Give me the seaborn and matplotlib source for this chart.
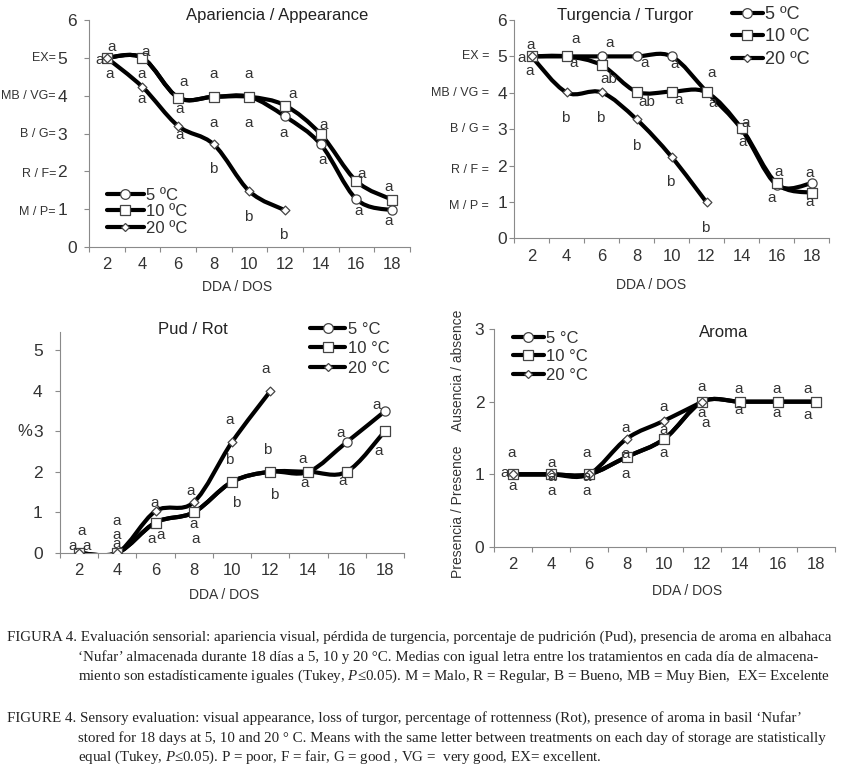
import numpy as np
import matplotlib
matplotlib.use("Agg")
import matplotlib.pyplot as plt
import matplotlib.transforms as mtransforms
from matplotlib.path import Path
from matplotlib.patches import PathPatch
from matplotlib.lines import Line2D
import seaborn as sns

# ---- data ----
days = [2, 4, 6, 8, 10, 12, 14, 16, 18]
temps = ["5", "10", "20"]

# Apariencia / Appearance (scale 1-5)
app_5 = [5.0, 5.0, 3.95, 3.97, 3.97, 3.45, 2.71, 1.26, 0.97]
app_10 = [5.0, 5.0, 3.95, 3.97, 3.97, 3.74, 2.98, 1.74, 1.25]
app_20 = [5.0, 4.23, 3.2, 2.71, 1.47, 0.97]
app_let = ["a", "a", "a", "a", "a", "a", "a", "a", "a", "a", "a", "b",
           "a", "a", "b", "a", "a", "b", "a", "a", "a", "a", "a", "a"]
app_let_x = [2.27, 1.58, 2.18, 4.18, 3.95, 3.95, 6.29, 6.1, 6.1, 7.97, 7.97, 7.97,
             9.94, 9.94, 9.94, 12.42, 11.9, 11.9, 14.14, 14.1, 16.29, 16.14, 17.78, 17.78]
app_let_y = [5.29, 4.95, 4.56, 5.15, 4.56, 3.92, 4.36, 3.66, 2.95, 4.56, 3.28, 2.07,
             4.56, 3.28, 0.79, 4.04, 3.01, 0.31, 3.22, 2.31, 1.92, 0.95, 1.59, 0.70]

# Turgencia / Turgor
turg_5 = [5.0, 5.0, 5.0, 5.0, 5.0, 4.03, 3.0, 1.47, 1.51]
turg_10 = [5.0, 5.0, 4.76, 4.03, 4.03, 4.01, 3.02, 1.51, 1.25]
turg_20 = [5.0, 4.01, 4.01, 3.27, 2.24, 0.99]
turg_let = ["a", "a", "a", "a", "a", "a", "ab", "b", "b", "a", "ab", "b",
            "a", "a", "b", "a", "a", "b", "a", "a", "a", "a", "a", "a"]
turg_let_x = [1.95, 1.44, 1.91, 4.52, 4.43, 6.45, 6.39, 3.91, 5.91, 8.49, 8.58, 7.97,
              10.2, 10.39, 9.91, 12.3, 12.35, 11.91, 14.26, 14.07, 16.1, 15.72, 17.87, 17.87]
turg_let_y = [5.31, 4.95, 4.61, 5.49, 4.81, 5.38, 4.38, 3.30, 3.32, 4.81, 3.75, 2.55,
              4.79, 3.80, 1.56, 4.55, 3.71, 0.29, 3.16, 2.66, 1.83, 1.10, 1.79, 1.01]

# Pud / Rot (%)
pud_5 = [0.0, 0.0, 0.75, 1.0, 1.75, 2.0, 2.0, 2.73, 3.49]
pud_10 = [0.0, 0.0, 0.75, 1.0, 1.75, 2.0, 2.0, 2.0, 3.0]
pud_20 = [0.0, 0.0, 1.03, 1.25, 2.73, 3.98]
pud_let = ["a", "a", "a", "a", "a", "a", "a", "a", "a", "a", "a", "a",
           "a", "b", "b", "a", "b", "b", "a", "a", "a", "a", "a", "a"]
pud_let_x = [1.67, 2.4, 2.14, 3.96, 3.96, 3.96, 5.96, 5.79, 6.26, 7.82, 7.99, 8.09,
             9.86, 9.86, 10.24, 11.78, 11.86, 12.21, 13.72, 13.82, 15.68, 15.77, 17.59, 17.68]
pud_let_y = [0.18, 0.18, 0.53, 0.78, 0.45, 0.21, 1.23, 0.34, 0.45, 1.52, 0.72, 0.34,
             3.28, 2.28, 1.22, 4.52, 2.53, 1.44, 2.32, 1.72, 2.96, 1.77, 3.65, 2.5]

# Aroma (1 = presence, 2 = absence)
aro_5 = [1.0, 1.0, 1.0, 1.24, 1.49, 2.0, 2.0, 2.0, 2.0]
aro_10 = [1.0, 1.0, 1.0, 1.24, 1.49, 2.0, 2.0, 2.0, 2.0]
aro_20 = [1.0, 1.0, 1.0, 1.49, 1.74, 2.0]
aro_let = ["a"] * 24
aro_let_x = [1.93, 1.58, 1.96, 4.04, 4.04, 4.04, 5.91, 5.91, 5.91, 7.93, 7.93, 7.93,
             9.95, 9.95, 9.95, 11.96, 11.96, 12.17, 13.93, 13.93, 15.91, 15.91, 17.55, 17.55]
aro_let_y = [1.29, 1.02, 0.84, 1.15, 0.96, 0.77, 1.29, 0.97, 0.77, 1.64, 1.28, 1.0,
             1.93, 1.61, 1.29, 2.2, 1.84, 1.70, 2.17, 1.88, 2.17, 1.85, 2.17, 1.82]

scale_prefix = ["M / P", "R / F", "B / G", "MB / VG", "EX"]

caption_es = [
    "FIGURA 4. Evaluación sensorial: apariencia visual, pérdida de turgencia, porcentaje de pudrición (Pud), presencia de aroma en albahaca",
    "‘Nufar’ almacenada durante 18 días a 5, 10 y 20 °C. Medias con igual letra entre los tratamientos en cada día de almacena-",
    "miento son estadísticamente iguales (Tukey, $\\mathit{P≤0.05}$). M = Malo, R = Regular, B = Bueno, MB = Muy Bien,  EX= Excelente",
]
caption_en = [
    "FIGURE 4. Sensory evaluation: visual appearance, loss of turgor, percentage of rottenness (Rot), presence of aroma in basil ‘Nufar’",
    "stored for 18 days at 5, 10 and 20 ° C. Means with the same letter between treatments on each day of storage are statistically",
    "equal (Tukey, $\\mathit{P≤0.05}$). P = poor, F = fair, G = good , VG =  very good, EX= excellent.",
]

# ---- style ----
sns.set_style("white")
plt.rcParams["font.family"] = ["Liberation Sans", "DejaVu Sans"]
plt.rcParams["mathtext.fontset"] = "custom"
plt.rcParams["mathtext.rm"] = "Liberation Serif"
plt.rcParams["mathtext.it"] = "Liberation Serif:italic"

AXIS_GREY = "#8a8a8a"
TEXT_DARK = "#333333"
MARKERS = {"5": "o", "10": "s", "20": "D"}
MSIZE = {"5": 44, "10": 44, "20": 20}


def smooth_path(xs, ys):
    """Bezier path through the points, like an Excel smoothed line"""
    pts = np.column_stack([xs, ys]).astype(float)
    n = len(pts)
    verts = [pts[0]]
    codes = [Path.MOVETO]
    for i in range(n - 1):
        p0 = pts[i - 1] if i > 0 else pts[i]
        p1 = pts[i]
        p2 = pts[i + 1]
        p3 = pts[i + 2] if i + 2 < n else pts[i + 1]
        verts += [p1 + (p2 - p0) / 6.0, p2 - (p3 - p1) / 6.0, p2]
        codes += [Path.CURVE4] * 3
    return Path(verts, codes)


def draw_series(ax, series):
    for t, vals in zip(temps, series):
        path = smooth_path(days[:len(vals)], vals)
        ax.add_patch(PathPatch(path, fill=False, edgecolor="black", lw=3,
                               capstyle="round", joinstyle="round", zorder=2))
    for t, vals in zip(temps, series):
        sns.scatterplot(x=days[:len(vals)], y=vals, marker=MARKERS[t], s=MSIZE[t],
                        color="white", edgecolor="#444444", linewidth=0.9,
                        zorder=4, ax=ax, legend=False)


def draw_letters(ax, xs, ys, labels):
    for x, y, s in zip(xs, ys, labels):
        ax.text(x, y, s, ha="center", va="center", fontsize=11, color=TEXT_DARK, zorder=5)


def style_axes(ax, ymax, yticks, ypad, xpad=7.5):
    ax.set_xlim(1, 19)
    ax.set_ylim(0, ymax)
    ax.set_xticks(days)
    ax.set_xticks(np.arange(1, 20, 2), minor=True)
    ax.set_yticks(yticks)
    ax.set_xlabel("")
    ax.set_ylabel("")
    for side in ["top", "right"]:
        ax.spines[side].set_visible(False)
    for side in ["left", "bottom"]:
        ax.spines[side].set_color(AXIS_GREY)
        ax.spines[side].set_linewidth(0.8)
    ax.tick_params(axis="x", which="major", bottom=True, length=0, pad=xpad,
                   labelsize=12, labelcolor=TEXT_DARK)
    ax.tick_params(axis="x", which="minor", bottom=True, length=3.5, width=0.8,
                   color=AXIS_GREY, direction="out")
    ax.tick_params(axis="y", which="major", left=True, length=3.5, width=0.8,
                   color=AXIS_GREY, pad=ypad, labelsize=12.5, labelcolor=TEXT_DARK,
                   direction="out")


def add_legend(ax, x, y, fontsize, handlelength, labelspacing, unit):
    handles = [Line2D([], [], color="black", lw=3, marker=MARKERS[t],
                      markerfacecolor="white", markeredgecolor="#444444",
                      markeredgewidth=0.9, markersize=7 if t != "20" else 4.5)
               for t in temps]
    labels = [t + " " + unit for t in temps]
    ax.legend(handles, labels, loc="upper left", bbox_to_anchor=(x, y), frameon=False,
              fontsize=fontsize, handlelength=handlelength, handletextpad=0.15,
              labelspacing=labelspacing, borderpad=0, borderaxespad=0,
              labelcolor=TEXT_DARK)


def add_scale_labels(ax, digit_shift_px, prefix_gap_px, space_eq, low_shift_px):
    fig = ax.figure
    labels = ax.get_yticklabels()
    for lbl in labels:
        if lbl.get_text() in ["1", "2", "3", "4", "5"]:
            lbl.set_transform(lbl.get_transform() + mtransforms.ScaledTranslation(
                -digit_shift_px / 100.0, 0, fig.dpi_scale_trans))
    for i, pre in enumerate(scale_prefix):
        text = pre + (" =" if space_eq else "=")
        dy = -low_shift_px if pre in ["M / P", "R / F"] else 0
        ax.annotate(text, xy=(0, i + 1), xycoords=("axes fraction", "data"),
                    xytext=(-prefix_gap_px * 0.72, dy * 0.72), textcoords="offset points",
                    ha="right", va="center", fontsize=9, color=TEXT_DARK)


fig = plt.figure(figsize=(8.53, 7.76), dpi=100)

# ---- Apariencia / Appearance ----
ax1 = fig.add_axes([0.1043, 0.6817, 0.3763, 0.2925])
draw_series(ax1, [app_5, app_10, app_20])
draw_letters(ax1, app_let_x, app_let_y, app_let)
style_axes(ax1, 6, range(0, 7), ypad=5)
add_scale_labels(ax1, digit_shift_px=10, prefix_gap_px=33, space_eq=False, low_shift_px=3)
ax1.text(0.586, 1.022, "Apariencia / Appearance", transform=ax1.transAxes,
         ha="center", va="center", fontsize=12, color="#222222")
ax1.set_xlabel("DDA / DOS", fontsize=10, color=TEXT_DARK)
ax1.xaxis.set_label_coords(0.461, -0.176)
ax1.xaxis.label.set_verticalalignment("center")
add_legend(ax1, 0.056, 0.262, 12, 2.2, 0.1, "ºC")

# ---- Turgencia / Turgor ----
ax2 = fig.add_axes([0.6026, 0.6929, 0.3693, 0.2813])
draw_series(ax2, [turg_5, turg_10, turg_20])
draw_letters(ax2, turg_let_x, turg_let_y, turg_let)
style_axes(ax2, 6, range(0, 7), ypad=1.5)
add_scale_labels(ax2, digit_shift_px=0, prefix_gap_px=25, space_eq=True, low_shift_px=4)
ax2.text(0.352, 1.023, "Turgencia / Turgor", transform=ax2.transAxes,
         ha="center", va="center", fontsize=12, color="#222222")
ax2.set_xlabel("DDA / DOS", fontsize=10, color=TEXT_DARK)
ax2.xaxis.set_label_coords(0.435, -0.216)
ax2.xaxis.label.set_verticalalignment("center")
add_legend(ax2, 0.692, 1.064, 13, 1.7, 0.3, "ºC")

# ---- Pud / Rot ----
ax3 = fig.add_axes([0.0703, 0.2874, 0.4033, 0.2852])
draw_series(ax3, [pud_5, pud_10, pud_20])
draw_letters(ax3, pud_let_x, pud_let_y, pud_let)
style_axes(ax3, 5.45, range(0, 6), ypad=9)
ax3.annotate("%", xy=(0, 3), xycoords=("axes fraction", "data"), xytext=(-28 * 0.72, 0),
             textcoords="offset points", ha="right", va="center", fontsize=12,
             color=TEXT_DARK)
ax3.text(0.387, 1.008, "Pud / Rot", transform=ax3.transAxes,
         ha="center", va="center", fontsize=12, color="#222222")
ax3.set_xlabel("DDA / DOS", fontsize=10, color=TEXT_DARK)
ax3.xaxis.set_label_coords(0.477, -0.19)
ax3.xaxis.label.set_verticalalignment("center")
add_legend(ax3, 0.727, 1.044, 12, 2.1, 0.26, "°C")

# ---- Aroma ----
ax4 = fig.add_axes([0.5791, 0.2951, 0.3998, 0.2809])
draw_series(ax4, [aro_5, aro_10, aro_20])
draw_letters(ax4, aro_let_x, aro_let_y, aro_let)
style_axes(ax4, 3, range(0, 4), ypad=3.5)
ax4.text(0.674, 0.986, "Aroma", transform=ax4.transAxes,
         ha="center", va="center", fontsize=12, color="#222222")
ax4.text(-0.106, 0.16, "Presencia / Presence", transform=ax4.transAxes, rotation=90,
         ha="center", va="center", fontsize=10, color=TEXT_DARK)
ax4.text(-0.106, 0.81, "Ausencia / absence", transform=ax4.transAxes, rotation=90,
         ha="center", va="center", fontsize=10, color=TEXT_DARK)
ax4.set_xlabel("DDA / DOS", fontsize=10, color=TEXT_DARK)
ax4.xaxis.set_label_coords(0.565, -0.2)
ax4.xaxis.label.set_verticalalignment("center")
add_legend(ax4, 0.056, 0.991, 12, 1.85, 0.2, "°C")

# ---- captions ----
cap_y = [637, 657, 676, 718, 738, 757]
cap_lines = caption_es + caption_en
for i, (line, ypix) in enumerate(zip(cap_lines, cap_y)):
    xpix = 7 if i % 3 == 0 else 78
    fig.text(xpix / 853.0, 1 - ypix / 776.0, line, ha="left", va="center",
             fontsize=10.85, family="Liberation Serif", color="#222222")

fig.savefig("out.png", dpi=100)
